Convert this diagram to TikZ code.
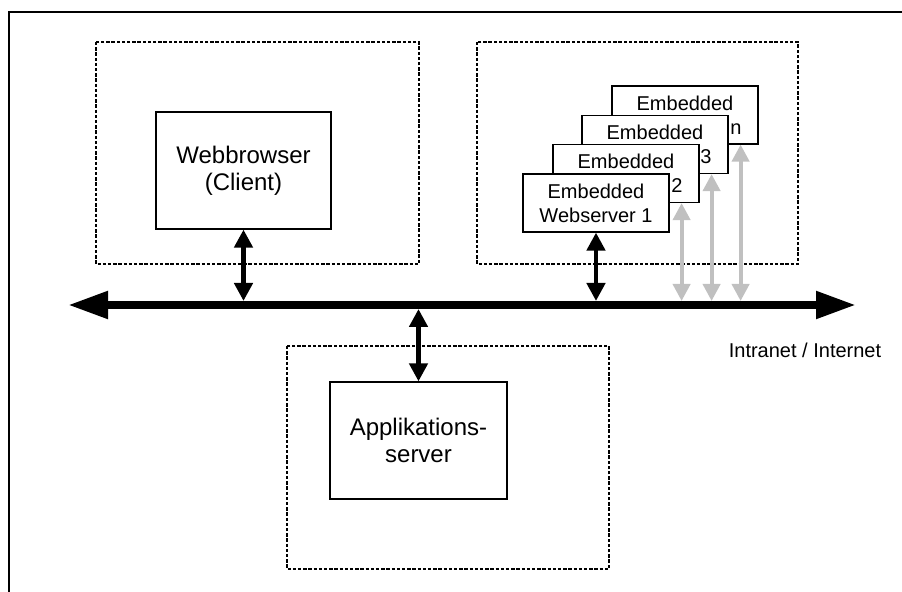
\documentclass[tikz,border=0pt]{standalone}
\usepackage{fontspec}
\setmainfont{Liberation Sans}
\usetikzlibrary{arrows.meta,calc}
\definecolor{lightarrow}{RGB}{192,192,192}
\tikzset{
  frame/.style={line width=0.75pt},
  group/.style={draw, line width=0.55pt, dash pattern=on 1.7pt off 0.9pt},
  bigbox/.style={draw, line width=0.6pt, fill=white, align=center, inner sep=0pt,
     minimum width=#1, font=\fontsize{12}{13.5}\selectfont},
  embbox/.style={draw, line width=0.6pt, fill=white, align=center, inner sep=0pt,
     minimum width=73pt, minimum height=29pt, font=\fontsize{10}{12}\selectfont},
  busarrow/.style={line width=4pt, {Triangle[length=20pt,width=13pt]}-{Triangle[length=20pt,width=13pt]}},
  blkarrow/.style={line width=2.3pt, {Triangle[length=9pt,width=9pt]}-{Triangle[length=9pt,width=9pt]}},
  gryarrow/.style={line width=2pt, draw=lightarrow, {Triangle[length=8.5pt,width=8.5pt]}-{Triangle[length=8.5pt,width=8.5pt]}},
  lbl/.style={inner sep=0pt, font=\fontsize{10}{12}\selectfont}
}
\begin{document}
\begin{tikzpicture}[x=0.5pt,y=-0.5pt]
\useasboundingbox (0,0) rectangle (902,592);
\clip (0,0) rectangle (902,592);
% outer frame (open at right and bottom)
\draw[frame] (9,600) -- (9,12) -- (910,12);
% dashed groups
\draw[group] (96,42) rectangle (419,264);
\draw[group] (477,42) rectangle (798,264);
\draw[group] (287,346) rectangle (609,569);
% main boxes
\node[bigbox=87.5pt, minimum height=58.5pt] (wb) at (243.5,170.5) {Webbrowser\\(Client)};
\node[bigbox=88.5pt, minimum height=58.5pt] (app) at (418.5,440.5) {Applikations-\\server};
% embedded webservers (back to front)
\node[embbox] (ewn) at (685,115) {Embedded\\Webserver n};
\node[embbox] (ew3) at (655,144.5) {Embedded\\Webserver 3};
\node[embbox] (ew2) at (626,173.5) {Embedded\\Webserver 2};
\node[embbox] (ew1) at (596,203) {Embedded\\Webserver 1};
% bus
\coordinate (busL) at (68,305);
\coordinate (busR) at (856,305);
\coordinate (bustop) at (0,301);
\coordinate (busbot) at (0,309);
\draw[busarrow] (busL) -- (busR);
\node[lbl] (net) at (805,350) {Intranet / Internet};
% connectors
\draw[blkarrow] (wb.south) -- (wb.south |- bustop);
\draw[blkarrow] (ew1.south) -- (ew1.south |- bustop);
\draw[blkarrow] (app.north) -- (app.north |- busbot);
\coordinate (g2) at ($(ew2.south east)+(-18,0)$);
\coordinate (g3) at ($(ew3.south east)+(-17,0)$);
\coordinate (gn) at ($(ewn.south east)+(-18,0)$);
\draw[gryarrow] (g2) -- (g2 |- bustop);
\draw[gryarrow] (g3) -- (g3 |- bustop);
\draw[gryarrow] (gn) -- (gn |- bustop);
\end{tikzpicture}
\end{document}
